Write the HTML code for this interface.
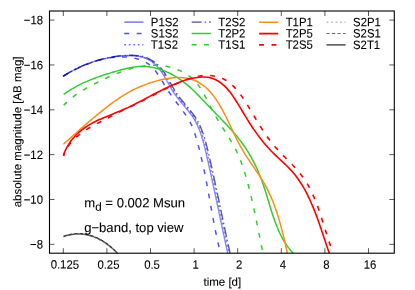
<!DOCTYPE html>
<html><head><meta charset="utf-8"><title>plot</title>
<style>
html,body{margin:0;padding:0;background:#fff;}
body{width:415px;height:290px;overflow:hidden;font-family:"Liberation Sans",sans-serif;}
svg{display:block;will-change:transform;}
svg text{font-family:"Liberation Sans",sans-serif;fill:#000;stroke:#000;stroke-width:0.08px;text-rendering:geometricPrecision;}
.c{fill:none;stroke-linejoin:round;stroke-linecap:butt;}
</style></head><body>
<svg width="415" height="290" viewBox="0 0 415 290">
<rect x="0" y="0" width="415" height="290" fill="#fff"/>
<defs><clipPath id="cp"><rect x="49.5" y="11.0" width="344.8" height="242.2"/></clipPath></defs>
<g clip-path="url(#cp)">
<path class="c" d="M63.55,236.56 C64.22,236.35 66.24,235.68 67.59,235.34 C68.94,234.99 70.29,234.71 71.63,234.49 C72.98,234.28 74.32,234.12 75.66,234.03 C77.00,233.94 78.34,233.92 79.67,233.95 C81.00,233.99 82.32,234.09 83.63,234.26 C84.95,234.42 86.25,234.65 87.54,234.94 C88.83,235.22 90.12,235.57 91.38,235.97 C92.65,236.37 93.90,236.83 95.14,237.33 C96.37,237.84 97.60,238.40 98.80,239.01 C100.00,239.61 101.18,240.27 102.35,240.97 C103.51,241.66 104.65,242.41 105.77,243.19 C106.88,243.96 107.98,244.78 109.05,245.63 C110.12,246.48 111.16,247.36 112.18,248.27 C113.19,249.17 114.18,250.11 115.14,251.06 C116.10,252.01 117.02,252.99 117.92,253.97 C118.81,254.96 120.07,256.47 120.50,256.97" stroke="#000000" stroke-width="1.5" stroke-opacity="0.6"/>
<path class="c" d="M63.55,236.06 C64.22,235.85 66.24,235.18 67.59,234.84 C68.94,234.49 70.29,234.21 71.63,233.99 C72.98,233.78 74.32,233.62 75.66,233.53 C77.00,233.44 78.34,233.42 79.67,233.45 C81.00,233.49 82.32,233.59 83.63,233.76 C84.95,233.92 86.25,234.15 87.54,234.44 C88.83,234.72 90.12,235.07 91.38,235.47 C92.65,235.87 93.90,236.33 95.14,236.83 C96.37,237.34 97.60,237.90 98.80,238.51 C100.00,239.11 101.18,239.77 102.35,240.47 C103.51,241.16 104.65,241.91 105.77,242.69 C106.88,243.46 107.98,244.28 109.05,245.13 C110.12,245.98 111.16,246.86 112.18,247.77 C113.19,248.67 114.18,249.61 115.14,250.56 C116.10,251.51 117.02,252.49 117.92,253.47 C118.81,254.46 120.07,255.97 120.50,256.47" stroke="#000000" stroke-width="1.0" stroke-dasharray="3.2,2.3" stroke-opacity="0.6"/>
<path class="c" d="M63.55,236.76 C64.22,236.55 66.24,235.88 67.59,235.54 C68.94,235.19 70.29,234.91 71.63,234.69 C72.98,234.48 74.32,234.32 75.66,234.23 C77.00,234.14 78.34,234.12 79.67,234.15 C81.00,234.19 82.32,234.29 83.63,234.46 C84.95,234.62 86.25,234.85 87.54,235.14 C88.83,235.42 90.12,235.77 91.38,236.17 C92.65,236.57 93.90,237.03 95.14,237.53 C96.37,238.04 97.60,238.60 98.80,239.21 C100.00,239.81 101.18,240.47 102.35,241.17 C103.51,241.86 104.65,242.61 105.77,243.39 C106.88,244.16 107.98,244.98 109.05,245.83 C110.12,246.68 111.16,247.56 112.18,248.47 C113.19,249.37 114.18,250.31 115.14,251.26 C116.10,252.21 117.02,253.19 117.92,254.17 C118.81,255.16 120.07,256.67 120.50,257.17" stroke="#000000" stroke-width="1.4" stroke-dasharray="2,2.5" stroke-opacity="0.2"/>
<path class="c" d="M63.00,76.38 C63.58,76.02 65.33,74.90 66.50,74.20 C67.66,73.49 68.83,72.80 70.01,72.14 C71.18,71.48 72.36,70.83 73.55,70.21 C74.73,69.59 75.92,68.99 77.11,68.41 C78.31,67.83 79.51,67.27 80.72,66.73 C81.92,66.19 83.14,65.67 84.36,65.17 C85.58,64.67 86.81,64.19 88.05,63.72 C89.28,63.26 90.53,62.82 91.79,62.39 C93.04,61.96 94.31,61.55 95.58,61.16 C96.86,60.77 98.14,60.40 99.44,60.04 C100.74,59.69 102.04,59.35 103.36,59.03 C104.67,58.71 106.00,58.41 107.33,58.13 C108.66,57.85 109.99,57.59 111.33,57.35 C112.67,57.12 114.02,56.91 115.36,56.72 C116.71,56.53 118.06,56.36 119.41,56.22 C120.76,56.08 122.11,55.97 123.46,55.88 C124.81,55.80 126.15,55.74 127.50,55.71 C128.84,55.68 130.18,55.67 131.51,55.71 C132.84,55.75 134.17,55.81 135.48,55.94 C136.79,56.06 138.10,56.23 139.38,56.48 C140.65,56.72 141.92,57.02 143.15,57.42 C144.39,57.82 145.60,58.30 146.78,58.85 C147.96,59.41 149.11,60.06 150.22,60.77 C151.33,61.47 152.41,62.26 153.45,63.10 C154.48,63.93 155.47,64.84 156.41,65.78 C157.35,66.72 158.25,67.73 159.09,68.76 C159.94,69.79 160.73,70.87 161.50,71.96 C162.26,73.06 162.98,74.20 163.69,75.35 C164.40,76.49 165.07,77.67 165.74,78.84 C166.41,80.02 167.06,81.22 167.71,82.40 C168.37,83.59 169.02,84.79 169.68,85.97 C170.35,87.15 171.02,88.33 171.72,89.48 C172.42,90.63 173.13,91.77 173.88,92.88 C174.63,94.00 175.41,95.08 176.20,96.16 C177.00,97.24 177.82,98.29 178.65,99.34 C179.48,100.39 180.33,101.42 181.18,102.45 C182.04,103.49 182.91,104.51 183.77,105.54 C184.63,106.56 185.51,107.59 186.36,108.62 C187.22,109.66 188.08,110.69 188.90,111.74 C189.73,112.80 190.55,113.86 191.32,114.94 C192.09,116.02 192.85,117.11 193.55,118.23 C194.26,119.35 194.92,120.49 195.55,121.65 C196.18,122.81 196.77,123.99 197.33,125.19 C197.90,126.39 198.42,127.60 198.93,128.83 C199.43,130.06 199.90,131.30 200.35,132.56 C200.80,133.81 201.22,135.08 201.63,136.35 C202.04,137.63 202.42,138.92 202.79,140.21 C203.16,141.51 203.51,142.81 203.85,144.11 C204.20,145.42 204.52,146.73 204.85,148.05 C205.17,149.36 205.48,150.68 205.79,151.99 C206.10,153.31 206.41,154.63 206.71,155.94 C207.02,157.26 207.32,158.57 207.62,159.89 C207.92,161.20 208.22,162.51 208.51,163.83 C208.81,165.14 209.10,166.45 209.40,167.76 C209.69,169.07 209.98,170.39 210.27,171.70 C210.56,173.01 210.85,174.32 211.13,175.63 C211.42,176.94 211.71,178.25 211.99,179.55 C212.27,180.86 212.56,182.17 212.84,183.48 C213.12,184.79 213.40,186.09 213.68,187.40 C213.96,188.71 214.24,190.02 214.51,191.32 C214.79,192.63 215.07,193.94 215.34,195.24 C215.62,196.55 215.90,197.86 216.17,199.16 C216.45,200.47 216.72,201.78 217.00,203.08 C217.27,204.39 217.54,205.69 217.82,207.00 C218.09,208.31 218.37,209.61 218.64,210.92 C218.91,212.22 219.19,213.53 219.46,214.84 C219.74,216.14 220.01,217.45 220.28,218.76 C220.56,220.06 220.83,221.37 221.11,222.68 C221.38,223.99 221.66,225.29 221.94,226.60 C222.21,227.91 222.49,229.22 222.77,230.53 C223.05,231.83 223.33,233.14 223.61,234.45 C223.89,235.76 224.17,237.07 224.45,238.38 C224.73,239.69 225.01,241.00 225.30,242.31 C225.58,243.62 225.87,244.94 226.16,246.25 C226.44,247.56 226.73,248.87 227.02,250.19 C227.31,251.50 227.60,252.82 227.90,254.13 C228.19,255.45 228.49,256.76 228.78,258.08 C229.08,259.39 229.53,261.37 229.68,262.03" stroke="#1818f0" stroke-width="1.4" stroke-opacity="0.5"/>
<path class="c" d="M63.02,76.25 C63.59,75.92 65.32,74.91 66.48,74.25 C67.64,73.60 68.81,72.95 69.99,72.31 C71.17,71.67 72.35,71.04 73.54,70.42 C74.74,69.81 75.94,69.20 77.14,68.61 C78.35,68.02 79.56,67.44 80.79,66.88 C82.01,66.32 83.24,65.78 84.48,65.25 C85.71,64.72 86.96,64.21 88.21,63.73 C89.46,63.24 90.72,62.77 91.99,62.32 C93.26,61.88 94.54,61.45 95.82,61.05 C97.10,60.65 98.39,60.27 99.69,59.93 C100.99,59.58 102.30,59.25 103.62,58.96 C104.93,58.66 106.25,58.39 107.58,58.15 C108.92,57.92 110.25,57.71 111.60,57.53 C112.95,57.36 114.31,57.21 115.67,57.11 C117.03,57.00 118.40,56.92 119.77,56.89 C121.14,56.85 122.52,56.85 123.88,56.89 C125.25,56.94 126.61,57.02 127.96,57.15 C129.31,57.28 130.66,57.45 131.98,57.68 C133.30,57.90 134.61,58.17 135.90,58.49 C137.18,58.82 138.45,59.19 139.68,59.63 C140.91,60.06 142.12,60.55 143.29,61.09 C144.46,61.64 145.60,62.25 146.69,62.92 C147.78,63.59 148.84,64.32 149.85,65.12 C150.86,65.92 151.82,66.79 152.73,67.72 C153.65,68.65 154.51,69.66 155.34,70.70 C156.17,71.74 156.95,72.85 157.72,73.97 C158.49,75.09 159.22,76.27 159.95,77.44 C160.68,78.62 161.39,79.83 162.10,81.02 C162.81,82.21 163.51,83.42 164.23,84.61 C164.94,85.79 165.66,86.96 166.40,88.11 C167.13,89.27 167.88,90.40 168.63,91.52 C169.39,92.64 170.15,93.74 170.93,94.83 C171.70,95.93 172.48,97.01 173.27,98.09 C174.06,99.17 174.86,100.24 175.66,101.31 C176.47,102.38 177.28,103.45 178.09,104.52 C178.90,105.59 179.72,106.66 180.52,107.74 C181.33,108.81 182.14,109.89 182.93,110.98 C183.72,112.07 184.50,113.17 185.26,114.27 C186.01,115.38 186.76,116.50 187.47,117.63 C188.18,118.77 188.87,119.91 189.52,121.07 C190.17,122.24 190.79,123.42 191.36,124.62 C191.94,125.82 192.47,127.05 192.97,128.29 C193.47,129.53 193.91,130.79 194.35,132.06 C194.78,133.33 195.18,134.62 195.57,135.90 C195.97,137.19 196.34,138.48 196.71,139.78 C197.08,141.07 197.44,142.37 197.80,143.66 C198.15,144.96 198.50,146.26 198.84,147.56 C199.17,148.86 199.51,150.16 199.83,151.47 C200.16,152.77 200.47,154.07 200.79,155.38 C201.10,156.69 201.40,157.99 201.71,159.30 C202.01,160.61 202.30,161.92 202.59,163.23 C202.88,164.54 203.16,165.86 203.44,167.17 C203.72,168.48 204.00,169.80 204.27,171.11 C204.54,172.43 204.81,173.75 205.07,175.06 C205.33,176.38 205.59,177.70 205.85,179.02 C206.11,180.33 206.36,181.65 206.61,182.97 C206.86,184.29 207.11,185.61 207.36,186.93 C207.60,188.26 207.85,189.58 208.09,190.90 C208.33,192.22 208.57,193.54 208.81,194.86 C209.05,196.19 209.29,197.51 209.53,198.83 C209.77,200.15 210.01,201.48 210.25,202.80 C210.48,204.12 210.72,205.44 210.96,206.77 C211.20,208.09 211.44,209.41 211.68,210.73 C211.92,212.06 212.16,213.38 212.40,214.70 C212.65,216.02 212.89,217.34 213.14,218.66 C213.38,219.98 213.63,221.30 213.88,222.62 C214.13,223.94 214.39,225.26 214.64,226.58 C214.90,227.90 215.16,229.22 215.42,230.53 C215.69,231.85 215.95,233.17 216.22,234.48 C216.49,235.80 216.77,237.11 217.05,238.43 C217.33,239.74 217.61,241.05 217.90,242.36 C218.19,243.68 218.49,244.99 218.79,246.29 C219.09,247.60 219.39,248.91 219.71,250.22 C220.02,251.52 220.34,252.83 220.66,254.13 C220.99,255.44 221.32,256.74 221.66,258.04 C222.00,259.34 222.53,261.29 222.70,261.94" stroke="#1818f0" stroke-width="1.5" stroke-dasharray="4.9,7.5" stroke-opacity="0.75" stroke-dashoffset="-0.8"/>
<path class="c" d="M63.00,76.38 C63.59,76.02 65.34,74.90 66.51,74.19 C67.69,73.48 68.86,72.79 70.04,72.12 C71.22,71.46 72.40,70.81 73.59,70.19 C74.78,69.57 75.97,68.97 77.17,68.38 C78.37,67.80 79.58,67.24 80.79,66.70 C82.00,66.15 83.22,65.63 84.45,65.13 C85.67,64.62 86.90,64.14 88.15,63.67 C89.39,63.21 90.64,62.76 91.90,62.33 C93.16,61.90 94.43,61.48 95.71,61.09 C96.99,60.69 98.28,60.31 99.58,59.95 C100.88,59.58 102.19,59.24 103.51,58.91 C104.83,58.59 106.16,58.28 107.49,57.99 C108.82,57.70 110.16,57.44 111.51,57.19 C112.85,56.95 114.20,56.73 115.55,56.53 C116.91,56.34 118.26,56.17 119.62,56.02 C120.97,55.88 122.33,55.76 123.68,55.67 C125.03,55.58 126.39,55.52 127.74,55.49 C129.09,55.45 130.44,55.45 131.77,55.48 C133.11,55.52 134.45,55.58 135.77,55.70 C137.09,55.82 138.41,55.98 139.70,56.22 C140.99,56.45 142.26,56.74 143.51,57.12 C144.76,57.49 145.99,57.94 147.18,58.48 C148.38,59.01 149.55,59.63 150.68,60.31 C151.81,60.99 152.91,61.76 153.96,62.57 C155.01,63.38 156.03,64.27 156.99,65.19 C157.96,66.11 158.88,67.10 159.75,68.11 C160.62,69.13 161.43,70.20 162.21,71.28 C163.00,72.37 163.73,73.50 164.45,74.64 C165.18,75.79 165.86,76.96 166.54,78.14 C167.22,79.31 167.87,80.51 168.54,81.70 C169.20,82.89 169.85,84.10 170.51,85.28 C171.18,86.47 171.85,87.66 172.54,88.82 C173.24,89.99 173.95,91.14 174.69,92.27 C175.43,93.39 176.20,94.49 176.99,95.58 C177.78,96.67 178.60,97.73 179.42,98.79 C180.25,99.84 181.10,100.88 181.95,101.92 C182.80,102.96 183.67,103.99 184.54,105.02 C185.41,106.06 186.28,107.08 187.15,108.12 C188.01,109.16 188.87,110.20 189.71,111.25 C190.54,112.30 191.37,113.36 192.15,114.44 C192.94,115.53 193.71,116.62 194.43,117.74 C195.14,118.85 195.82,119.99 196.47,121.15 C197.11,122.31 197.71,123.49 198.29,124.69 C198.86,125.88 199.40,127.10 199.91,128.33 C200.43,129.56 200.90,130.80 201.36,132.06 C201.82,133.31 202.25,134.58 202.67,135.86 C203.08,137.14 203.47,138.43 203.85,139.73 C204.22,141.02 204.58,142.33 204.93,143.64 C205.28,144.95 205.61,146.27 205.93,147.58 C206.26,148.90 206.57,150.22 206.89,151.54 C207.20,152.86 207.51,154.19 207.81,155.51 C208.12,156.83 208.43,158.15 208.73,159.47 C209.03,160.79 209.33,162.11 209.63,163.42 C209.93,164.74 210.22,166.06 210.52,167.38 C210.81,168.69 211.10,170.01 211.39,171.33 C211.68,172.64 211.97,173.96 212.26,175.27 C212.55,176.59 212.84,177.90 213.12,179.22 C213.41,180.53 213.69,181.84 213.97,183.16 C214.25,184.47 214.54,185.78 214.82,187.10 C215.10,188.41 215.38,189.72 215.66,191.04 C215.93,192.35 216.21,193.66 216.49,194.97 C216.77,196.28 217.04,197.60 217.32,198.91 C217.60,200.22 217.87,201.53 218.15,202.84 C218.42,204.15 218.70,205.47 218.97,206.78 C219.25,208.09 219.52,209.40 219.80,210.71 C220.07,212.02 220.35,213.34 220.62,214.65 C220.90,215.96 221.17,217.27 221.45,218.58 C221.72,219.90 222.00,221.21 222.27,222.52 C222.55,223.83 222.83,225.15 223.10,226.46 C223.38,227.77 223.66,229.09 223.94,230.40 C224.22,231.71 224.50,233.03 224.78,234.34 C225.06,235.66 225.34,236.97 225.63,238.29 C225.91,239.60 226.19,240.92 226.48,242.24 C226.76,243.55 227.05,244.87 227.34,246.19 C227.63,247.50 227.92,248.82 228.21,250.14 C228.50,251.46 228.79,252.78 229.09,254.10 C229.38,255.42 229.68,256.74 229.98,258.06 C230.28,259.38 230.73,261.37 230.88,262.03" stroke="#1818f0" stroke-width="1.4" stroke-dasharray="1.8,2.7" stroke-opacity="0.5"/>
<path class="c" d="M63.00,76.38 C63.58,76.02 65.32,74.91 66.48,74.21 C67.65,73.50 68.81,72.82 69.98,72.16 C71.15,71.50 72.33,70.86 73.50,70.24 C74.68,69.62 75.86,69.03 77.05,68.45 C78.24,67.87 79.43,67.31 80.63,66.77 C81.83,66.23 83.04,65.71 84.25,65.20 C85.47,64.70 86.69,64.21 87.92,63.75 C89.14,63.28 90.38,62.83 91.63,62.40 C92.87,61.96 94.13,61.55 95.39,61.14 C96.66,60.74 97.94,60.36 99.22,59.99 C100.51,59.62 101.80,59.27 103.11,58.93 C104.41,58.60 105.72,58.28 107.04,57.99 C108.36,57.69 109.69,57.41 111.02,57.16 C112.35,56.90 113.69,56.67 115.02,56.46 C116.36,56.25 117.70,56.07 119.05,55.91 C120.39,55.75 121.73,55.62 123.07,55.51 C124.42,55.41 125.76,55.33 127.10,55.29 C128.44,55.24 129.78,55.22 131.11,55.24 C132.44,55.25 133.78,55.29 135.09,55.39 C136.41,55.48 137.72,55.61 139.02,55.80 C140.31,55.99 141.59,56.23 142.85,56.55 C144.11,56.86 145.35,57.24 146.56,57.70 C147.77,58.16 148.96,58.71 150.11,59.31 C151.26,59.92 152.39,60.61 153.47,61.35 C154.55,62.10 155.60,62.91 156.61,63.77 C157.61,64.63 158.57,65.55 159.49,66.51 C160.40,67.46 161.26,68.48 162.08,69.52 C162.90,70.56 163.67,71.64 164.42,72.75 C165.17,73.85 165.87,74.99 166.57,76.14 C167.27,77.29 167.93,78.46 168.60,79.64 C169.26,80.81 169.91,82.00 170.56,83.18 C171.22,84.36 171.87,85.55 172.54,86.72 C173.21,87.89 173.89,89.06 174.59,90.20 C175.30,91.34 176.03,92.46 176.78,93.56 C177.53,94.66 178.32,95.74 179.12,96.80 C179.91,97.87 180.73,98.91 181.56,99.95 C182.39,101.00 183.24,102.02 184.09,103.05 C184.94,104.08 185.81,105.10 186.67,106.12 C187.52,107.15 188.39,108.17 189.24,109.20 C190.09,110.24 190.93,111.27 191.74,112.32 C192.56,113.38 193.36,114.44 194.12,115.52 C194.88,116.60 195.61,117.70 196.30,118.82 C196.99,119.95 197.64,121.09 198.25,122.25 C198.87,123.41 199.44,124.59 199.99,125.79 C200.54,126.98 201.06,128.20 201.55,129.42 C202.04,130.65 202.50,131.89 202.95,133.14 C203.39,134.40 203.80,135.66 204.20,136.93 C204.60,138.20 204.98,139.49 205.34,140.78 C205.71,142.07 206.06,143.36 206.39,144.66 C206.73,145.96 207.06,147.27 207.38,148.58 C207.70,149.88 208.01,151.19 208.32,152.50 C208.62,153.81 208.93,155.12 209.23,156.43 C209.54,157.74 209.84,159.05 210.13,160.36 C210.43,161.66 210.73,162.97 211.03,164.28 C211.32,165.58 211.61,166.89 211.90,168.19 C212.19,169.50 212.48,170.80 212.77,172.11 C213.06,173.41 213.35,174.72 213.63,176.02 C213.92,177.32 214.20,178.63 214.48,179.93 C214.76,181.23 215.04,182.53 215.32,183.84 C215.60,185.14 215.88,186.44 216.16,187.74 C216.44,189.04 216.71,190.34 216.99,191.65 C217.26,192.95 217.54,194.25 217.81,195.55 C218.09,196.85 218.36,198.15 218.64,199.45 C218.91,200.75 219.18,202.05 219.45,203.35 C219.73,204.65 220.00,205.95 220.27,207.25 C220.54,208.56 220.82,209.86 221.09,211.16 C221.36,212.46 221.63,213.76 221.91,215.06 C222.18,216.36 222.45,217.66 222.72,218.96 C223.00,220.26 223.27,221.56 223.54,222.87 C223.82,224.17 224.09,225.47 224.37,226.77 C224.64,228.07 224.92,229.37 225.19,230.68 C225.47,231.98 225.75,233.28 226.03,234.59 C226.31,235.89 226.59,237.19 226.87,238.50 C227.15,239.80 227.43,241.10 227.71,242.41 C228.00,243.71 228.28,245.02 228.57,246.33 C228.85,247.63 229.14,248.94 229.43,250.24 C229.72,251.55 230.01,252.86 230.30,254.17 C230.60,255.48 230.89,256.78 231.19,258.09 C231.49,259.40 231.94,261.37 232.09,262.02" stroke="#000080" stroke-width="1.4" stroke-dasharray="10,3,1.5,3" stroke-opacity="0.65"/>
<path class="c" d="M63.62,94.34 C64.18,93.95 65.85,92.77 66.98,92.02 C68.11,91.28 69.25,90.55 70.40,89.85 C71.54,89.15 72.69,88.47 73.85,87.81 C75.01,87.15 76.17,86.51 77.34,85.89 C78.52,85.27 79.70,84.68 80.88,84.10 C82.07,83.52 83.26,82.96 84.46,82.42 C85.66,81.88 86.87,81.35 88.09,80.84 C89.30,80.33 90.52,79.84 91.75,79.36 C92.98,78.87 94.22,78.40 95.46,77.94 C96.70,77.49 97.96,77.04 99.21,76.60 C100.47,76.16 101.73,75.73 103.00,75.30 C104.27,74.88 105.55,74.47 106.83,74.06 C108.12,73.65 109.40,73.26 110.70,72.87 C111.99,72.47 113.29,72.09 114.59,71.72 C115.89,71.34 117.19,70.97 118.50,70.61 C119.81,70.25 121.12,69.89 122.44,69.55 C123.75,69.21 125.07,68.87 126.39,68.56 C127.71,68.26 129.03,67.96 130.35,67.70 C131.68,67.45 133.00,67.21 134.33,67.02 C135.65,66.84 136.98,66.68 138.30,66.58 C139.63,66.48 140.95,66.43 142.28,66.42 C143.60,66.42 144.92,66.48 146.24,66.57 C147.56,66.67 148.88,66.82 150.19,67.01 C151.50,67.20 152.80,67.45 154.10,67.73 C155.40,68.01 156.69,68.33 157.97,68.70 C159.25,69.06 160.52,69.47 161.78,69.91 C163.04,70.35 164.29,70.83 165.52,71.35 C166.76,71.86 167.98,72.42 169.18,73.00 C170.39,73.58 171.58,74.20 172.76,74.84 C173.93,75.48 175.09,76.16 176.22,76.86 C177.36,77.56 178.48,78.29 179.57,79.04 C180.67,79.79 181.74,80.57 182.80,81.37 C183.86,82.17 184.90,82.99 185.92,83.83 C186.95,84.67 187.96,85.53 188.95,86.40 C189.95,87.27 190.93,88.16 191.90,89.07 C192.87,89.97 193.83,90.89 194.78,91.82 C195.73,92.75 196.67,93.69 197.61,94.63 C198.55,95.58 199.48,96.54 200.41,97.50 C201.34,98.46 202.26,99.43 203.18,100.40 C204.11,101.37 205.03,102.34 205.95,103.32 C206.87,104.29 207.80,105.26 208.72,106.24 C209.65,107.21 210.58,108.18 211.52,109.14 C212.45,110.11 213.39,111.07 214.33,112.04 C215.27,113.00 216.21,113.96 217.15,114.92 C218.09,115.89 219.03,116.85 219.97,117.81 C220.90,118.78 221.84,119.74 222.77,120.71 C223.70,121.68 224.63,122.65 225.55,123.62 C226.47,124.60 227.39,125.58 228.30,126.56 C229.20,127.54 230.11,128.53 231.00,129.52 C231.89,130.52 232.78,131.52 233.65,132.53 C234.52,133.53 235.39,134.55 236.24,135.57 C237.09,136.59 237.93,137.62 238.75,138.66 C239.57,139.71 240.38,140.76 241.18,141.82 C241.97,142.88 242.75,143.95 243.51,145.03 C244.27,146.12 245.02,147.21 245.75,148.32 C246.48,149.42 247.19,150.54 247.88,151.67 C248.58,152.79 249.26,153.93 249.93,155.08 C250.59,156.22 251.24,157.38 251.88,158.55 C252.51,159.71 253.13,160.89 253.73,162.07 C254.34,163.25 254.93,164.45 255.50,165.65 C256.08,166.85 256.64,168.05 257.19,169.27 C257.74,170.49 258.27,171.71 258.79,172.94 C259.31,174.17 259.82,175.41 260.31,176.65 C260.80,177.90 261.28,179.15 261.75,180.41 C262.22,181.66 262.67,182.93 263.12,184.20 C263.56,185.46 263.99,186.74 264.41,188.02 C264.83,189.29 265.24,190.58 265.65,191.86 C266.05,193.15 266.45,194.44 266.84,195.72 C267.23,197.01 267.62,198.31 268.01,199.60 C268.40,200.89 268.78,202.18 269.17,203.47 C269.55,204.76 269.94,206.05 270.33,207.33 C270.72,208.62 271.12,209.90 271.52,211.18 C271.92,212.46 272.32,213.74 272.74,215.01 C273.16,216.28 273.58,217.55 274.02,218.81 C274.45,220.07 274.90,221.32 275.36,222.57 C275.82,223.81 276.29,225.05 276.79,226.28 C277.28,227.51 277.79,228.73 278.32,229.94 C278.84,231.15 279.39,232.35 279.96,233.53 C280.53,234.72 281.12,235.89 281.73,237.06 C282.35,238.22 282.99,239.37 283.66,240.50 C284.32,241.64 285.02,242.76 285.74,243.86 C286.47,244.97 287.22,246.06 288.01,247.13 C288.79,248.20 289.61,249.26 290.46,250.29 C291.32,251.33 292.21,252.35 293.13,253.35 C294.06,254.34 295.02,255.32 296.03,256.28 C297.03,257.24 298.64,258.62 299.16,259.09" stroke="#33cc33" stroke-width="1.5"/>
<path class="c" d="M63.71,105.21 C64.20,104.73 65.68,103.26 66.69,102.33 C67.70,101.40 68.72,100.50 69.75,99.63 C70.78,98.76 71.83,97.92 72.88,97.10 C73.94,96.29 75.01,95.50 76.09,94.73 C77.17,93.96 78.26,93.22 79.36,92.50 C80.47,91.77 81.58,91.07 82.70,90.38 C83.83,89.69 84.96,89.02 86.10,88.36 C87.25,87.70 88.40,87.06 89.56,86.42 C90.72,85.79 91.90,85.17 93.08,84.55 C94.26,83.94 95.45,83.33 96.64,82.73 C97.84,82.13 99.05,81.53 100.26,80.94 C101.47,80.35 102.69,79.76 103.92,79.18 C105.15,78.60 106.38,78.03 107.63,77.46 C108.87,76.90 110.12,76.35 111.37,75.81 C112.62,75.26 113.88,74.73 115.15,74.22 C116.41,73.70 117.69,73.20 118.96,72.71 C120.24,72.23 121.52,71.76 122.80,71.31 C124.09,70.86 125.38,70.43 126.67,70.02 C127.97,69.61 129.26,69.22 130.56,68.85 C131.87,68.49 133.17,68.14 134.48,67.83 C135.78,67.51 137.09,67.22 138.41,66.95 C139.72,66.69 141.03,66.46 142.35,66.25 C143.66,66.05 144.98,65.87 146.30,65.73 C147.62,65.59 148.94,65.48 150.26,65.41 C151.58,65.33 152.90,65.29 154.23,65.29 C155.55,65.29 156.87,65.33 158.19,65.40 C159.51,65.48 160.83,65.59 162.15,65.75 C163.47,65.91 164.80,66.11 166.11,66.35 C167.43,66.59 168.74,66.87 170.04,67.20 C171.34,67.53 172.64,67.90 173.92,68.32 C175.20,68.73 176.47,69.19 177.71,69.69 C178.96,70.19 180.19,70.74 181.39,71.33 C182.59,71.91 183.78,72.55 184.92,73.22 C186.07,73.90 187.20,74.62 188.28,75.38 C189.37,76.14 190.42,76.95 191.44,77.80 C192.45,78.65 193.42,79.55 194.35,80.49 C195.28,81.43 196.16,82.41 197.00,83.44 C197.84,84.46 198.63,85.53 199.40,86.63 C200.16,87.72 200.88,88.86 201.58,90.01 C202.28,91.15 202.94,92.33 203.60,93.51 C204.26,94.69 204.89,95.90 205.52,97.09 C206.15,98.29 206.77,99.49 207.39,100.69 C208.01,101.89 208.62,103.10 209.23,104.30 C209.85,105.49 210.46,106.69 211.08,107.88 C211.70,109.08 212.33,110.27 212.96,111.45 C213.60,112.63 214.24,113.81 214.90,114.98 C215.56,116.15 216.24,117.31 216.92,118.46 C217.60,119.62 218.30,120.77 219.00,121.91 C219.70,123.06 220.42,124.20 221.13,125.33 C221.84,126.47 222.56,127.61 223.28,128.74 C223.99,129.88 224.71,131.01 225.43,132.14 C226.14,133.28 226.86,134.41 227.57,135.55 C228.27,136.69 228.98,137.83 229.67,138.97 C230.36,140.12 231.04,141.27 231.71,142.42 C232.38,143.58 233.04,144.74 233.68,145.91 C234.32,147.08 234.95,148.26 235.56,149.44 C236.16,150.63 236.75,151.83 237.32,153.03 C237.89,154.24 238.43,155.46 238.96,156.68 C239.48,157.91 239.99,159.15 240.48,160.39 C240.97,161.63 241.44,162.88 241.90,164.14 C242.36,165.40 242.80,166.67 243.23,167.94 C243.66,169.21 244.07,170.49 244.48,171.77 C244.88,173.05 245.27,174.34 245.65,175.62 C246.03,176.91 246.40,178.21 246.76,179.50 C247.13,180.80 247.48,182.10 247.82,183.40 C248.17,184.70 248.51,186.00 248.84,187.30 C249.17,188.60 249.50,189.91 249.82,191.21 C250.15,192.51 250.46,193.82 250.78,195.12 C251.09,196.43 251.40,197.73 251.70,199.04 C252.00,200.35 252.30,201.65 252.60,202.96 C252.89,204.27 253.18,205.58 253.47,206.89 C253.76,208.19 254.04,209.50 254.33,210.81 C254.61,212.12 254.89,213.43 255.16,214.74 C255.44,216.05 255.71,217.36 255.99,218.68 C256.26,219.99 256.53,221.30 256.80,222.61 C257.07,223.92 257.33,225.24 257.60,226.55 C257.87,227.86 258.13,229.17 258.40,230.49 C258.66,231.80 258.93,233.11 259.19,234.43 C259.46,235.74 259.72,237.06 259.99,238.37 C260.25,239.68 260.52,241.00 260.79,242.31 C261.05,243.63 261.32,244.94 261.59,246.25 C261.86,247.57 262.13,248.88 262.40,250.20 C262.68,251.51 262.95,252.83 263.23,254.14 C263.51,255.45 263.79,256.77 264.07,258.08 C264.35,259.40 264.78,261.37 264.93,262.02" stroke="#33cc33" stroke-width="1.5" stroke-dasharray="4.9,7.6" stroke-dashoffset="0.4"/>
<path class="c" d="M63.47,144.20 C63.98,143.75 65.49,142.41 66.49,141.52 C67.49,140.62 68.50,139.73 69.50,138.84 C70.50,137.94 71.50,137.05 72.50,136.16 C73.51,135.27 74.51,134.38 75.51,133.49 C76.51,132.60 77.51,131.71 78.51,130.83 C79.51,129.94 80.52,129.06 81.52,128.18 C82.53,127.30 83.53,126.42 84.54,125.54 C85.55,124.66 86.56,123.79 87.57,122.92 C88.58,122.05 89.59,121.18 90.61,120.31 C91.63,119.45 92.65,118.59 93.67,117.73 C94.69,116.87 95.72,116.02 96.75,115.17 C97.78,114.32 98.81,113.47 99.85,112.63 C100.89,111.79 101.93,110.95 102.98,110.12 C104.03,109.28 105.08,108.45 106.14,107.63 C107.20,106.81 108.26,105.99 109.33,105.18 C110.40,104.37 111.48,103.57 112.56,102.77 C113.64,101.98 114.73,101.19 115.83,100.42 C116.92,99.65 118.03,98.89 119.14,98.14 C120.25,97.40 121.37,96.67 122.49,95.95 C123.62,95.24 124.75,94.54 125.89,93.86 C127.04,93.18 128.19,92.52 129.35,91.89 C130.51,91.25 131.68,90.63 132.86,90.04 C134.04,89.45 135.23,88.87 136.42,88.32 C137.62,87.77 138.83,87.24 140.05,86.72 C141.27,86.21 142.50,85.72 143.74,85.24 C144.99,84.76 146.24,84.30 147.50,83.86 C148.77,83.41 150.04,82.99 151.33,82.57 C152.62,82.16 153.92,81.76 155.23,81.38 C156.55,81.00 157.87,80.63 159.20,80.29 C160.53,79.94 161.88,79.62 163.22,79.33 C164.56,79.03 165.91,78.77 167.26,78.53 C168.61,78.30 169.96,78.10 171.31,77.94 C172.66,77.79 174.01,77.66 175.35,77.59 C176.69,77.52 178.03,77.48 179.36,77.51 C180.68,77.53 182.01,77.59 183.31,77.72 C184.62,77.85 185.92,78.03 187.20,78.28 C188.48,78.53 189.75,78.83 191.00,79.21 C192.25,79.58 193.48,80.03 194.69,80.54 C195.90,81.05 197.09,81.63 198.24,82.26 C199.40,82.89 200.54,83.59 201.64,84.33 C202.74,85.07 203.81,85.88 204.85,86.72 C205.88,87.56 206.88,88.45 207.84,89.37 C208.80,90.30 209.72,91.27 210.60,92.27 C211.48,93.26 212.32,94.30 213.13,95.35 C213.94,96.41 214.71,97.50 215.46,98.60 C216.22,99.70 216.94,100.82 217.65,101.95 C218.37,103.08 219.06,104.23 219.74,105.39 C220.42,106.54 221.08,107.71 221.74,108.88 C222.39,110.06 223.03,111.24 223.66,112.43 C224.29,113.61 224.91,114.81 225.52,116.01 C226.13,117.21 226.73,118.42 227.33,119.62 C227.93,120.83 228.51,122.04 229.10,123.26 C229.68,124.47 230.26,125.69 230.83,126.90 C231.41,128.12 231.98,129.33 232.55,130.55 C233.13,131.76 233.69,132.97 234.27,134.18 C234.85,135.39 235.43,136.60 236.01,137.80 C236.60,139.00 237.19,140.20 237.80,141.39 C238.41,142.58 239.02,143.76 239.66,144.94 C240.29,146.11 240.94,147.28 241.60,148.44 C242.27,149.60 242.95,150.75 243.65,151.89 C244.34,153.03 245.06,154.16 245.78,155.29 C246.50,156.42 247.24,157.54 247.98,158.66 C248.71,159.78 249.47,160.90 250.22,162.01 C250.97,163.12 251.73,164.23 252.48,165.34 C253.24,166.45 254.00,167.56 254.75,168.67 C255.50,169.78 256.26,170.89 257.00,172.01 C257.75,173.12 258.49,174.24 259.22,175.36 C259.95,176.49 260.67,177.61 261.37,178.75 C262.08,179.88 262.77,181.02 263.45,182.17 C264.13,183.32 264.79,184.47 265.43,185.64 C266.07,186.81 266.69,187.98 267.29,189.17 C267.90,190.35 268.48,191.54 269.05,192.75 C269.62,193.95 270.17,195.16 270.70,196.38 C271.24,197.59 271.76,198.82 272.27,200.05 C272.77,201.28 273.26,202.52 273.74,203.77 C274.21,205.01 274.68,206.26 275.13,207.52 C275.58,208.78 276.01,210.04 276.44,211.31 C276.87,212.57 277.28,213.85 277.68,215.13 C278.09,216.40 278.48,217.68 278.86,218.97 C279.25,220.26 279.62,221.55 279.99,222.84 C280.35,224.13 280.71,225.43 281.06,226.73 C281.41,228.02 281.75,229.32 282.09,230.63 C282.43,231.93 282.76,233.24 283.08,234.54 C283.41,235.85 283.72,237.16 284.04,238.46 C284.35,239.77 284.66,241.08 284.96,242.39 C285.26,243.70 285.56,245.01 285.85,246.32 C286.14,247.62 286.42,248.93 286.70,250.24 C286.97,251.54 287.25,252.85 287.51,254.15 C287.77,255.46 288.03,256.76 288.28,258.06 C288.53,259.36 288.89,261.30 289.02,261.95" stroke="#f98f1a" stroke-width="1.5"/>
<path class="c" d="M63.44,155.20 C63.69,154.55 64.41,152.55 64.96,151.27 C65.52,150.00 66.12,148.76 66.76,147.56 C67.40,146.36 68.08,145.19 68.81,144.06 C69.53,142.92 70.29,141.83 71.09,140.76 C71.89,139.70 72.73,138.67 73.60,137.67 C74.46,136.67 75.37,135.71 76.30,134.78 C77.23,133.85 78.20,132.95 79.19,132.08 C80.18,131.21 81.20,130.37 82.24,129.57 C83.29,128.76 84.36,127.99 85.45,127.24 C86.54,126.50 87.66,125.78 88.79,125.09 C89.92,124.41 91.07,123.75 92.24,123.12 C93.41,122.49 94.60,121.88 95.79,121.29 C96.99,120.71 98.21,120.14 99.43,119.59 C100.65,119.03 101.88,118.50 103.12,117.97 C104.36,117.44 105.62,116.93 106.87,116.41 C108.12,115.90 109.38,115.39 110.64,114.88 C111.90,114.37 113.17,113.86 114.43,113.34 C115.69,112.83 116.95,112.31 118.21,111.79 C119.46,111.26 120.72,110.73 121.96,110.19 C123.21,109.65 124.45,109.11 125.68,108.55 C126.91,108.00 128.14,107.43 129.35,106.86 C130.56,106.28 131.76,105.70 132.96,105.11 C134.16,104.52 135.35,103.92 136.53,103.31 C137.72,102.71 138.90,102.10 140.07,101.49 C141.25,100.87 142.42,100.26 143.59,99.64 C144.75,99.02 145.92,98.40 147.09,97.78 C148.25,97.16 149.42,96.53 150.58,95.91 C151.75,95.29 152.92,94.67 154.09,94.06 C155.26,93.44 156.43,92.83 157.61,92.22 C158.78,91.61 159.96,91.01 161.15,90.42 C162.34,89.82 163.53,89.23 164.73,88.65 C165.93,88.07 167.13,87.49 168.35,86.93 C169.57,86.37 170.79,85.82 172.03,85.27 C173.26,84.73 174.51,84.20 175.77,83.69 C177.03,83.17 178.30,82.67 179.58,82.18 C180.87,81.70 182.17,81.22 183.47,80.78 C184.77,80.34 186.09,79.91 187.41,79.53 C188.73,79.15 190.06,78.79 191.38,78.48 C192.70,78.17 194.03,77.90 195.35,77.68 C196.68,77.47 198.00,77.29 199.31,77.19 C200.62,77.08 201.93,77.03 203.22,77.05 C204.52,77.07 205.80,77.15 207.07,77.32 C208.33,77.49 209.59,77.72 210.82,78.05 C212.05,78.37 213.27,78.78 214.46,79.28 C215.65,79.78 216.82,80.38 217.96,81.05 C219.10,81.72 220.22,82.48 221.29,83.29 C222.37,84.11 223.42,85.00 224.42,85.93 C225.43,86.86 226.40,87.85 227.32,88.87 C228.24,89.89 229.12,90.97 229.97,92.05 C230.81,93.14 231.62,94.26 232.40,95.38 C233.19,96.51 233.94,97.65 234.69,98.79 C235.44,99.93 236.16,101.07 236.88,102.21 C237.60,103.35 238.31,104.50 239.01,105.64 C239.71,106.79 240.40,107.93 241.09,109.07 C241.77,110.22 242.45,111.36 243.14,112.50 C243.82,113.64 244.50,114.78 245.19,115.92 C245.88,117.06 246.57,118.19 247.26,119.32 C247.96,120.45 248.67,121.58 249.38,122.70 C250.10,123.82 250.82,124.94 251.55,126.05 C252.28,127.17 253.03,128.27 253.78,129.37 C254.53,130.47 255.30,131.57 256.07,132.65 C256.84,133.74 257.63,134.82 258.43,135.89 C259.23,136.96 260.03,138.03 260.86,139.08 C261.68,140.14 262.51,141.18 263.36,142.22 C264.21,143.26 265.07,144.28 265.95,145.30 C266.83,146.31 267.72,147.32 268.62,148.31 C269.53,149.31 270.45,150.29 271.39,151.26 C272.32,152.23 273.28,153.18 274.25,154.13 C275.21,155.08 276.20,156.01 277.19,156.93 C278.18,157.86 279.18,158.78 280.18,159.70 C281.17,160.62 282.18,161.54 283.17,162.46 C284.15,163.39 285.14,164.31 286.11,165.25 C287.08,166.19 288.04,167.14 288.97,168.10 C289.91,169.07 290.82,170.04 291.71,171.04 C292.59,172.04 293.46,173.06 294.29,174.09 C295.13,175.12 295.95,176.17 296.74,177.24 C297.54,178.30 298.31,179.38 299.06,180.48 C299.81,181.57 300.54,182.68 301.25,183.80 C301.96,184.92 302.65,186.06 303.32,187.20 C304.00,188.35 304.65,189.51 305.29,190.68 C305.93,191.85 306.55,193.03 307.15,194.22 C307.76,195.41 308.35,196.61 308.93,197.81 C309.50,199.02 310.06,200.24 310.61,201.46 C311.16,202.68 311.70,203.91 312.22,205.15 C312.75,206.38 313.26,207.62 313.77,208.87 C314.27,210.12 314.76,211.37 315.25,212.62 C315.73,213.88 316.20,215.14 316.67,216.40 C317.14,217.66 317.60,218.93 318.05,220.20 C318.51,221.46 318.95,222.74 319.40,224.01 C319.84,225.28 320.28,226.56 320.71,227.83 C321.14,229.11 321.57,230.38 322.00,231.66 C322.43,232.94 322.85,234.21 323.28,235.49 C323.70,236.77 324.13,238.04 324.55,239.32 C324.97,240.59 325.40,241.86 325.82,243.13 C326.25,244.41 326.68,245.68 327.11,246.94 C327.54,248.21 327.97,249.47 328.41,250.73 C328.84,251.99 329.28,253.25 329.73,254.50 C330.18,255.75 330.63,257.00 331.09,258.24 C331.55,259.48 332.26,261.34 332.49,261.95" stroke="#ff0000" stroke-width="1.6"/>
<path class="c" d="M63.53,156.06 C63.77,155.41 64.41,153.39 64.95,152.12 C65.49,150.86 66.11,149.65 66.78,148.48 C67.45,147.31 68.19,146.19 68.97,145.11 C69.76,144.03 70.60,142.99 71.48,141.99 C72.36,140.99 73.29,140.03 74.25,139.10 C75.20,138.17 76.21,137.28 77.23,136.41 C78.25,135.55 79.31,134.72 80.38,133.91 C81.45,133.10 82.54,132.33 83.65,131.57 C84.75,130.81 85.87,130.08 87.00,129.36 C88.13,128.65 89.28,127.95 90.43,127.27 C91.58,126.59 92.75,125.93 93.92,125.27 C95.09,124.62 96.27,123.98 97.45,123.34 C98.64,122.71 99.83,122.08 101.03,121.46 C102.22,120.84 103.42,120.22 104.62,119.60 C105.83,118.98 107.03,118.37 108.23,117.75 C109.44,117.13 110.64,116.50 111.85,115.88 C113.05,115.26 114.26,114.63 115.46,114.01 C116.66,113.39 117.87,112.77 119.07,112.16 C120.28,111.55 121.48,110.94 122.69,110.34 C123.89,109.75 125.10,109.16 126.30,108.58 C127.50,108.00 128.71,107.43 129.91,106.86 C131.11,106.29 132.32,105.74 133.52,105.17 C134.72,104.60 135.92,104.04 137.12,103.46 C138.33,102.88 139.53,102.29 140.73,101.69 C141.93,101.10 143.13,100.49 144.32,99.88 C145.52,99.27 146.72,98.66 147.92,98.04 C149.11,97.43 150.31,96.80 151.50,96.18 C152.70,95.56 153.89,94.94 155.09,94.32 C156.28,93.70 157.47,93.08 158.67,92.46 C159.86,91.84 161.05,91.22 162.25,90.61 C163.44,90.00 164.64,89.39 165.84,88.79 C167.04,88.19 168.25,87.59 169.45,87.00 C170.66,86.41 171.87,85.83 173.09,85.25 C174.31,84.68 175.53,84.11 176.76,83.56 C177.99,83.00 179.23,82.46 180.47,81.93 C181.72,81.40 182.97,80.87 184.23,80.38 C185.49,79.89 186.76,79.41 188.04,78.97 C189.32,78.53 190.60,78.11 191.90,77.73 C193.20,77.36 194.50,77.01 195.82,76.72 C197.13,76.42 198.46,76.16 199.79,75.97 C201.13,75.77 202.48,75.62 203.83,75.53 C205.18,75.44 206.56,75.41 207.92,75.44 C209.28,75.47 210.65,75.57 212.00,75.73 C213.34,75.89 214.69,76.11 216.00,76.41 C217.31,76.70 218.60,77.07 219.85,77.50 C221.10,77.94 222.32,78.45 223.49,79.03 C224.67,79.60 225.80,80.26 226.89,80.97 C227.99,81.68 229.04,82.46 230.06,83.29 C231.08,84.11 232.07,85.00 233.02,85.92 C233.98,86.84 234.90,87.81 235.80,88.80 C236.70,89.80 237.57,90.84 238.41,91.90 C239.26,92.95 240.08,94.04 240.88,95.13 C241.69,96.23 242.47,97.35 243.24,98.47 C244.00,99.60 244.75,100.74 245.49,101.88 C246.22,103.03 246.94,104.18 247.66,105.34 C248.37,106.50 249.08,107.66 249.78,108.83 C250.48,109.99 251.17,111.15 251.86,112.32 C252.55,113.48 253.23,114.64 253.92,115.80 C254.61,116.95 255.29,118.11 255.98,119.26 C256.67,120.41 257.36,121.56 258.05,122.70 C258.75,123.85 259.44,124.98 260.15,126.12 C260.85,127.25 261.56,128.37 262.28,129.49 C263.01,130.61 263.73,131.72 264.47,132.83 C265.21,133.93 265.96,135.03 266.73,136.12 C267.50,137.20 268.27,138.28 269.07,139.35 C269.86,140.42 270.67,141.47 271.50,142.52 C272.33,143.57 273.18,144.60 274.05,145.62 C274.91,146.65 275.80,147.66 276.71,148.66 C277.61,149.66 278.53,150.65 279.46,151.64 C280.39,152.63 281.34,153.60 282.28,154.58 C283.23,155.56 284.19,156.53 285.15,157.50 C286.10,158.47 287.07,159.44 288.02,160.41 C288.98,161.38 289.94,162.36 290.88,163.33 C291.83,164.31 292.78,165.29 293.70,166.28 C294.63,167.28 295.55,168.27 296.45,169.28 C297.35,170.29 298.24,171.30 299.10,172.33 C299.96,173.37 300.80,174.41 301.61,175.47 C302.42,176.53 303.21,177.60 303.97,178.69 C304.72,179.78 305.45,180.89 306.15,182.01 C306.86,183.13 307.53,184.27 308.19,185.42 C308.84,186.57 309.47,187.74 310.08,188.91 C310.69,190.09 311.28,191.28 311.85,192.48 C312.42,193.68 312.97,194.89 313.51,196.11 C314.04,197.33 314.56,198.56 315.06,199.80 C315.57,201.04 316.06,202.29 316.54,203.54 C317.01,204.80 317.48,206.06 317.93,207.33 C318.39,208.60 318.83,209.87 319.27,211.15 C319.71,212.43 320.14,213.72 320.57,215.00 C320.99,216.29 321.41,217.58 321.83,218.88 C322.24,220.17 322.66,221.47 323.07,222.76 C323.48,224.06 323.89,225.36 324.30,226.66 C324.71,227.95 325.11,229.25 325.52,230.55 C325.93,231.84 326.34,233.14 326.75,234.43 C327.16,235.72 327.57,237.01 327.99,238.30 C328.40,239.58 328.82,240.86 329.25,242.14 C329.67,243.41 330.10,244.68 330.54,245.95 C330.97,247.21 331.41,248.47 331.86,249.72 C332.31,250.97 332.76,252.21 333.23,253.45 C333.70,254.68 334.17,255.90 334.65,257.12 C335.14,258.33 335.89,260.13 336.14,260.73" stroke="#ff0000" stroke-width="1.6" stroke-dasharray="4.9,7.5" stroke-dashoffset="1.8"/>
</g>
<g stroke="#000" stroke-width="1.1" fill="none">
<rect x="49.5" y="11.0" width="344.8" height="242.2"/>
</g>
<g stroke="#000" stroke-width="0.65" fill="none">
<path d="M49.5,20.10h5.0 M394.3,20.10h-5.0"/>
<path d="M49.5,64.95h5.0 M394.3,64.95h-5.0"/>
<path d="M49.5,109.80h5.0 M394.3,109.80h-5.0"/>
<path d="M49.5,154.65h5.0 M394.3,154.65h-5.0"/>
<path d="M49.5,199.50h5.0 M394.3,199.50h-5.0"/>
<path d="M49.5,244.35h5.0 M394.3,244.35h-5.0"/>
<path d="M63.30,253.2v-5.0 M63.30,11.0v5.0"/>
<path d="M106.90,253.2v-5.0 M106.90,11.0v5.0"/>
<path d="M150.50,253.2v-5.0 M150.50,11.0v5.0"/>
<path d="M194.10,253.2v-5.0 M194.10,11.0v5.0"/>
<path d="M237.70,253.2v-5.0 M237.70,11.0v5.0"/>
<path d="M281.30,253.2v-5.0 M281.30,11.0v5.0"/>
<path d="M324.90,253.2v-5.0 M324.90,11.0v5.0"/>
<path d="M368.50,253.2v-5.0 M368.50,11.0v5.0"/>
</g>
<g transform="rotate(0.03 207 145)">
<text transform="translate(43.0,24.45) scale(1,1.07)" font-size="11.35" text-anchor="end">−18</text>
<text transform="translate(43.0,69.30) scale(1,1.07)" font-size="11.35" text-anchor="end">−16</text>
<text transform="translate(43.0,114.15) scale(1,1.07)" font-size="11.35" text-anchor="end">−14</text>
<text transform="translate(43.0,159.00) scale(1,1.07)" font-size="11.35" text-anchor="end">−12</text>
<text transform="translate(43.0,203.85) scale(1,1.07)" font-size="11.35" text-anchor="end">−10</text>
<text transform="translate(43.0,248.70) scale(1,1.07)" font-size="11.35" text-anchor="end">−8</text>
<text transform="translate(64.90,268.7) scale(1,1.07)" font-size="11.35" text-anchor="middle">0.125</text>
<text transform="translate(108.50,268.7) scale(1,1.07)" font-size="11.35" text-anchor="middle">0.25</text>
<text transform="translate(152.10,268.7) scale(1,1.07)" font-size="11.35" text-anchor="middle">0.5</text>
<text transform="translate(195.70,268.7) scale(1,1.07)" font-size="11.35" text-anchor="middle">1</text>
<text transform="translate(239.30,268.7) scale(1,1.07)" font-size="11.35" text-anchor="middle">2</text>
<text transform="translate(282.90,268.7) scale(1,1.07)" font-size="11.35" text-anchor="middle">4</text>
<text transform="translate(326.50,268.7) scale(1,1.07)" font-size="11.35" text-anchor="middle">8</text>
<text transform="translate(370.10,268.7) scale(1,1.07)" font-size="11.35" text-anchor="middle">16</text>
<text x="222.4" y="285.8" font-size="11.5" text-anchor="middle">time [d]</text>
<text transform="translate(21.3,132.0) rotate(-90)" font-size="11.5" text-anchor="middle">absolute magnitude [AB mag]</text>
<path class="c" d="M124.20,22.20h19.20" stroke="#1818f0" stroke-width="1.6" stroke-opacity="0.5"/>
<text transform="translate(150.80,26.20) scale(1,1.07)" font-size="11.35">P1S2</text>
<path class="c" d="M124.20,33.50h19.20" stroke="#1818f0" stroke-width="1.6" stroke-dasharray="4.9,7.5" stroke-opacity="0.75"/>
<text transform="translate(150.80,37.50) scale(1,1.07)" font-size="11.35">S1S2</text>
<path class="c" d="M124.20,44.80h19.20" stroke="#1818f0" stroke-width="1.6" stroke-dasharray="1.8,2.7" stroke-opacity="0.6"/>
<text transform="translate(150.80,48.80) scale(1,1.07)" font-size="11.35">T1S2</text>
<path class="c" d="M191.60,22.20h19.20" stroke="#000080" stroke-width="1.7" stroke-dasharray="10,3,1.5,3" stroke-opacity="0.5"/>
<text transform="translate(218.20,26.20) scale(1,1.07)" font-size="11.35">T2S2</text>
<path class="c" d="M191.60,33.50h19.20" stroke="#33cc33" stroke-width="1.6"/>
<text transform="translate(218.20,37.50) scale(1,1.07)" font-size="11.35">T2P2</text>
<path class="c" d="M191.60,44.80h19.20" stroke="#33cc33" stroke-width="1.6" stroke-dasharray="4.9,7.5"/>
<text transform="translate(218.20,48.80) scale(1,1.07)" font-size="11.35">T1S1</text>
<path class="c" d="M259.00,22.20h19.20" stroke="#f98f1a" stroke-width="1.6"/>
<text transform="translate(285.60,26.20) scale(1,1.07)" font-size="11.35">T1P1</text>
<path class="c" d="M259.00,33.50h19.20" stroke="#ff0000" stroke-width="1.7"/>
<text transform="translate(285.60,37.50) scale(1,1.07)" font-size="11.35">T2P5</text>
<path class="c" d="M259.00,44.80h19.20" stroke="#ff0000" stroke-width="1.7" stroke-dasharray="4.9,7.5"/>
<text transform="translate(285.60,48.80) scale(1,1.07)" font-size="11.35">T2S5</text>
<path class="c" d="M326.40,22.20h19.20" stroke="#000000" stroke-width="1.5" stroke-dasharray="2,2.5" stroke-opacity="0.24"/>
<text transform="translate(353.00,26.20) scale(1,1.07)" font-size="11.35">S2P1</text>
<path class="c" d="M326.40,33.50h19.20" stroke="#000000" stroke-width="1.0" stroke-dasharray="3.2,2.3" stroke-opacity="0.6"/>
<text transform="translate(353.00,37.50) scale(1,1.07)" font-size="11.35">S2S1</text>
<path class="c" d="M326.40,44.80h19.20" stroke="#000000" stroke-width="1.7" stroke-opacity="0.6"/>
<text transform="translate(353.00,48.80) scale(1,1.07)" font-size="11.35">S2T1</text>
<text x="84.4" y="207.3" font-size="13.1">m<tspan dy="3.6" font-size="11.6">d</tspan><tspan dy="-3.6"> = 0.002 Msun</tspan></text>
<text x="84.2" y="232.0" font-size="13.1">g−band, top view</text>
</g>
</svg>
</body></html>
